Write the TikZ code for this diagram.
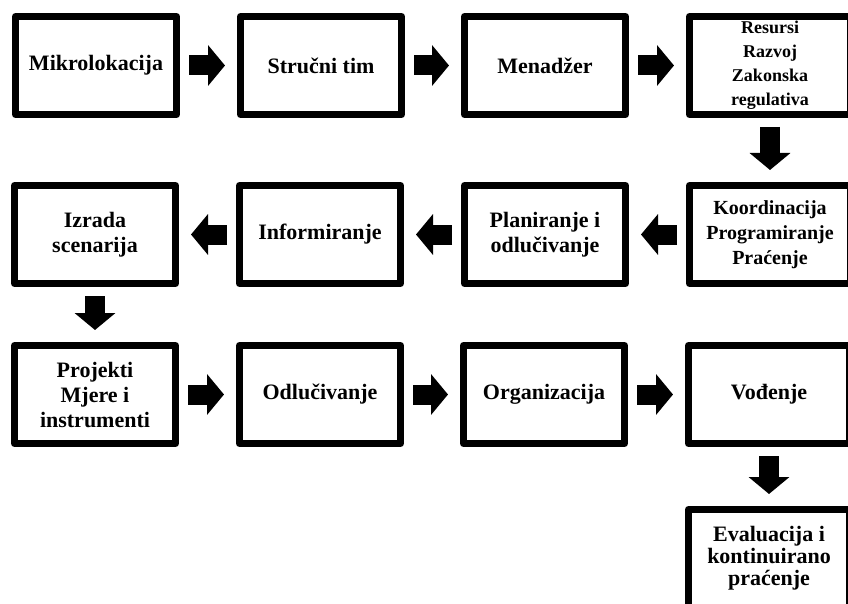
\documentclass[tikz,border=0pt]{standalone}
\usepackage{fontspec}
\setmainfont{Liberation Serif}
\usepackage{tikz}
\usetikzlibrary{arrows.meta,positioning}

\begin{document}
\begin{tikzpicture}[
    x=1pt, y=-1pt,
    node distance=57pt,
    box/.style={rectangle, draw, line width=7pt, line join=round, minimum width=161pt, minimum height=98pt, align=center, inner sep=2pt, font=\bfseries\fontsize{22}{25}\selectfont},
    arrow/.style={line width=20pt, -{Triangle[length=17pt, width=40pt]}, shorten <=9pt, shorten >=12pt}
]
    \useasboundingbox (0,0) rectangle (848,604);
    \clip (0,0) rectangle (848,604);

    % first row
    \node[box] (mikro) at (96,65.5) {Mikrolokacija};
    \node[box, right=of mikro] (tim) {Stručni tim};
    \node[box, right=56pt of tim] (menadzer) {Menadžer};
    \node[box, right=of menadzer, font=\bfseries\fontsize{18}{24}\selectfont] (resursi) {Resursi\\Razvoj\\Zakonska\\regulativa};

    % second row
    \node[box, below=64pt of resursi, font=\bfseries\fontsize{20}{25}\selectfont] (koord) {Koordinacija\\Programiranje\\Praćenje};
    \node[box, left=of koord] (plan) {Planiranje i\\odlučivanje};
    \node[box, left=of plan] (info) {Informiranje};
    \node[box, left=of info] (izrada) {Izrada\\scenarija};

    % third row
    \node[box, below=55pt of izrada] (projekti) {Projekti\\Mjere i\\instrumenti};
    \node[box, right=of projekti] (odluc) {Odlučivanje};
    \node[box, right=56pt of odluc] (org) {Organizacija};
    \node[box, right=of org] (vodenje) {Vođenje};
    \node[box, below=59pt of vodenje, font=\bfseries\fontsize{22}{22}\selectfont] (eval) {Evaluacija i\\kontinuirano\\praćenje};

    \draw[arrow] (mikro) -- (tim);
    \draw[arrow] (tim) -- (menadzer);
    \draw[arrow] (menadzer) -- (resursi);
    \draw[arrow] (resursi) -- (koord);
    \draw[arrow] (koord) -- (plan);
    \draw[arrow] (plan) -- (info);
    \draw[arrow] (info) -- (izrada);
    \draw[arrow] (izrada) -- (projekti);
    \draw[arrow] (projekti) -- (odluc);
    \draw[arrow] (odluc) -- (org);
    \draw[arrow] (org) -- (vodenje);
    \draw[arrow] (vodenje) -- (eval);
\end{tikzpicture}
\end{document}
